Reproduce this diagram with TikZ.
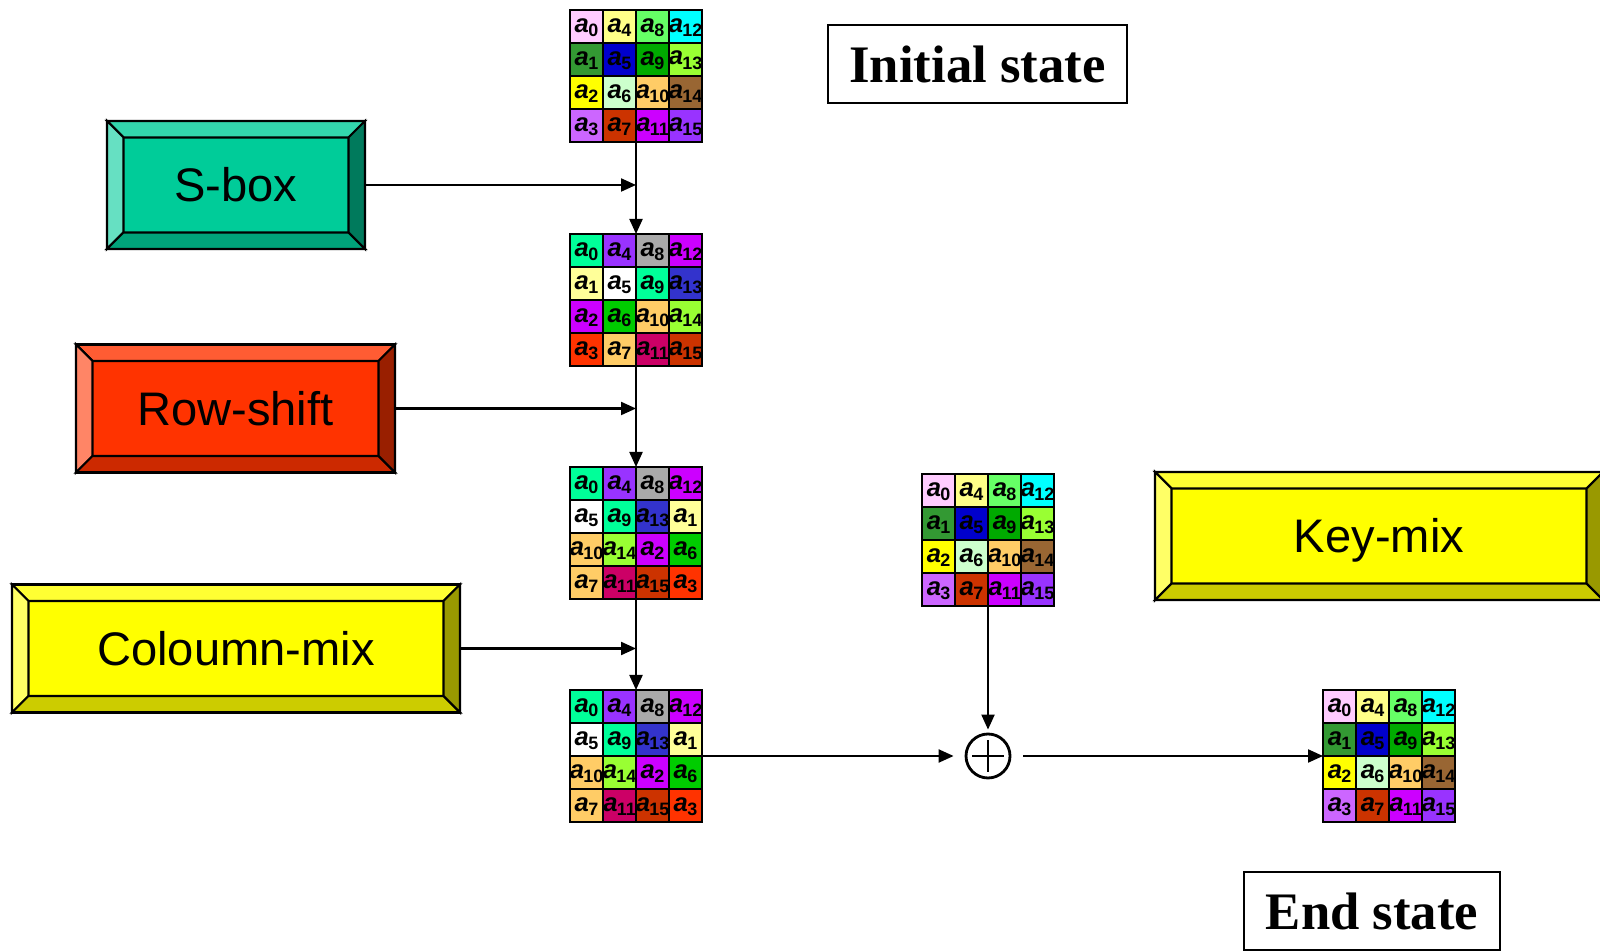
\documentclass[tikz,border=0pt]{standalone}
\usepackage{fontspec}
\setmainfont{Liberation Serif}
\setsansfont{Liberation Sans}
\usetikzlibrary{arrows.meta,positioning,calc}

% cell colours
\definecolor{cpink}{HTML}{FFCCFF}
\definecolor{cpaleyel}{HTML}{FFFF88}
\definecolor{clgreen}{HTML}{66FF66}
\definecolor{ccyan}{HTML}{00FFFF}
\definecolor{cdkgreen}{HTML}{339933}
\definecolor{cblue}{HTML}{0000CC}
\definecolor{cgreen}{HTML}{00AA00}
\definecolor{cygreen}{HTML}{99FF33}
\definecolor{cyellow}{HTML}{FFFF00}
\definecolor{cpalegreen}{HTML}{CCFFCC}
\definecolor{corange}{HTML}{FFCC66}
\definecolor{cbrown}{HTML}{996633}
\definecolor{clilac}{HTML}{CC66FF}
\definecolor{crust}{HTML}{CC3300}
\definecolor{cmagenta}{HTML}{CC00FF}
\definecolor{cviolet}{HTML}{9933FF}
\definecolor{cmint}{HTML}{00FF99}
\definecolor{cgray}{HTML}{AAAAAA}
\definecolor{ccream}{HTML}{FFFF99}
\definecolor{cindigo}{HTML}{3333CC}
\definecolor{clime}{HTML}{00CC00}
\definecolor{cred}{HTML}{FF3300}
\definecolor{ccrimson}{HTML}{CC0066}
% box colours
\definecolor{sboxc}{HTML}{00CC99}
\definecolor{shiftc}{HTML}{FF3300}
\definecolor{mixc}{HTML}{FFFF00}

% state contents, row by row
\newcommand{\plainstate}{cpink/0,cpaleyel/4,clgreen/8,ccyan/12,
  cdkgreen/1,cblue/5,cgreen/9,cygreen/13,
  cyellow/2,cpalegreen/6,corange/10,cbrown/14,
  clilac/3,crust/7,cmagenta/11,cviolet/15}
\newcommand{\subststate}{cmint/0,cviolet/4,cgray/8,cmagenta/12,
  ccream/1,white/5,cmint/9,cindigo/13,
  cmagenta/2,clime/6,corange/10,cygreen/14,
  cred/3,corange/7,ccrimson/11,crust/15}
\newcommand{\shiftstate}{cmint/0,cviolet/4,cgray/8,cmagenta/12,
  white/5,cmint/9,cindigo/13,ccream/1,
  corange/10,cygreen/14,cmagenta/2,clime/6,
  corange/7,ccrimson/11,crust/15,cred/3}

% byte label a_i
\newcommand{\bytelabel}[1]{\textit{a}\kern-0.2pt\raisebox{-1.3pt}{\fontsize{5.1}{6}\selectfont #1}}

% 4x4 state: name, centre, cells
\newcommand{\stategrid}[3]{%
  \node[statebox] (#1) at (#2) {};
  \foreach \fc/\idx [count=\k from 0] in #3 {
    \pgfmathtruncatemacro{\row}{\k/4}
    \pgfmathtruncatemacro{\clm}{mod(\k,4)}
    \coordinate (#1-c\idx) at ($(#1.north west)+(\clm*0.33+0.165,-\row*0.33-0.165)$);
    \filldraw[fill=\fc, cellline] ($(#1-c\idx)+(-0.165,-0.165)$) rectangle ++(0.33,0.33);
    \node[celltext] (#1-\idx) at ($(#1-c\idx)+(0,-0.01)$) {\bytelabel{\idx}};
  }
  \draw[cellline] (#1.north west) rectangle (#1.south east);
}

% bevelled frame round a box node
\newcommand{\bevelframe}[2]{%
  \def\bw{0.165}
  \filldraw[fill=#2!80!white, cellline] (#1.north west) -- (#1.north east)
    -- ($(#1.north east)+(-\bw,-\bw)$) -- ($(#1.north west)+(\bw,-\bw)$) -- cycle;
  \filldraw[fill=#2!60!white, cellline] (#1.north west) -- (#1.south west)
    -- ($(#1.south west)+(\bw,\bw)$) -- ($(#1.north west)+(\bw,-\bw)$) -- cycle;
  \filldraw[fill=#2!80!black, cellline] (#1.south west) -- (#1.south east)
    -- ($(#1.south east)+(-\bw,\bw)$) -- ($(#1.south west)+(\bw,\bw)$) -- cycle;
  \filldraw[fill=#2!60!black, cellline] (#1.north east) -- (#1.south east)
    -- ($(#1.south east)+(-\bw,\bw)$) -- ($(#1.north east)+(-\bw,-\bw)$) -- cycle;
  \draw[cellline] (#1.north west) rectangle (#1.south east);
}

\tikzset{
  cellline/.style={draw=black, line width=0.6pt},
  statebox/.style={minimum size=1.32cm, inner sep=0pt, outer sep=0pt},
  celltext/.style={inner sep=0pt, font=\sffamily\bfseries\fontsize{7.3}{9}\selectfont},
  bevelbox/.style={draw, line width=0.6pt, inner sep=0pt, outer sep=0pt,
    minimum height=1.28cm, text height=9.6pt, text depth=0pt,
    font=\sffamily\fontsize{13.4}{16}\selectfont},
  labelbox/.style={draw, line width=0.6pt, inner sep=0pt, minimum height=0.78cm,
    font=\bfseries\fontsize{15}{18}\selectfont},
  flow/.style={-{Triangle[length=0.15cm,width=0.13cm]}, line width=0.6pt},
  xorop/.style={circle, draw, line width=0.8pt, minimum size=0.44cm, inner sep=0pt,
    path picture={\draw[line width=0.8pt]
      ($(path picture bounding box.center)+(-0.16,0)$) -- ++(0.32,0)
      ($(path picture bounding box.center)+(0,-0.16)$) -- ++(0,0.32);}}
}

\begin{document}
\begin{tikzpicture}
  \useasboundingbox (0,0) rectangle (16,9.5);

  % round operations
  \node[bevelbox, fill=sboxc, minimum width=2.58cm] (sbox) at (2.36,7.65) {S-box};
  \bevelframe{sbox}{sboxc}
  \node[bevelbox, fill=shiftc, minimum width=3.19cm] (rshift) at (2.355,5.415) {Row-shift};
  \bevelframe{rshift}{shiftc}
  \node[bevelbox, fill=mixc, minimum width=4.48cm] (cmix) at (2.36,3.015) {Coloumn-mix};
  \bevelframe{cmix}{mixc}
  \node[bevelbox, fill=mixc, minimum width=4.48cm] (kmix) at (13.79,4.14) {Key-mix};
  \bevelframe{kmix}{mixc}

  % states
  \stategrid{g1}{6.36,8.74}{\plainstate}
  \stategrid{g2}{6.36,6.50}{\subststate}
  \stategrid{g3}{6.36,4.17}{\shiftstate}
  \stategrid{g4}{6.36,1.94}{\shiftstate}
  \stategrid{g5}{9.88,4.10}{\plainstate}
  \stategrid{g6}{13.89,1.94}{\plainstate}

  \node[xorop] (xor) at (9.88,1.94) {};

  \node[labelbox, minimum width=2.99cm] (init) at (9.775,8.86) {Initial state};
  \node[labelbox, minimum width=2.56cm] (final) at (13.72,0.39) {End state};

  % data flow
  \draw[flow] (g1.south) -- (g2.north);
  \draw[flow] (sbox.east) -- (sbox.east -| g1.south);
  \draw[flow] (g2.south) -- (g3.north);
  \draw[flow] (rshift.east) -- (rshift.east -| g2.south);
  \draw[flow] (g3.south) -- (g4.north);
  \draw[flow] (cmix.east) -- (cmix.east -| g3.south);
  \draw[flow, shorten >=0.11cm] (g4.east) -- (xor.west);
  \draw[flow, shorten >=0.03cm] (g5.south) -- (xor.north);
  \draw[flow, shorten <=0.12cm] (xor.east) -- (g6.west);
\end{tikzpicture}
\end{document}
